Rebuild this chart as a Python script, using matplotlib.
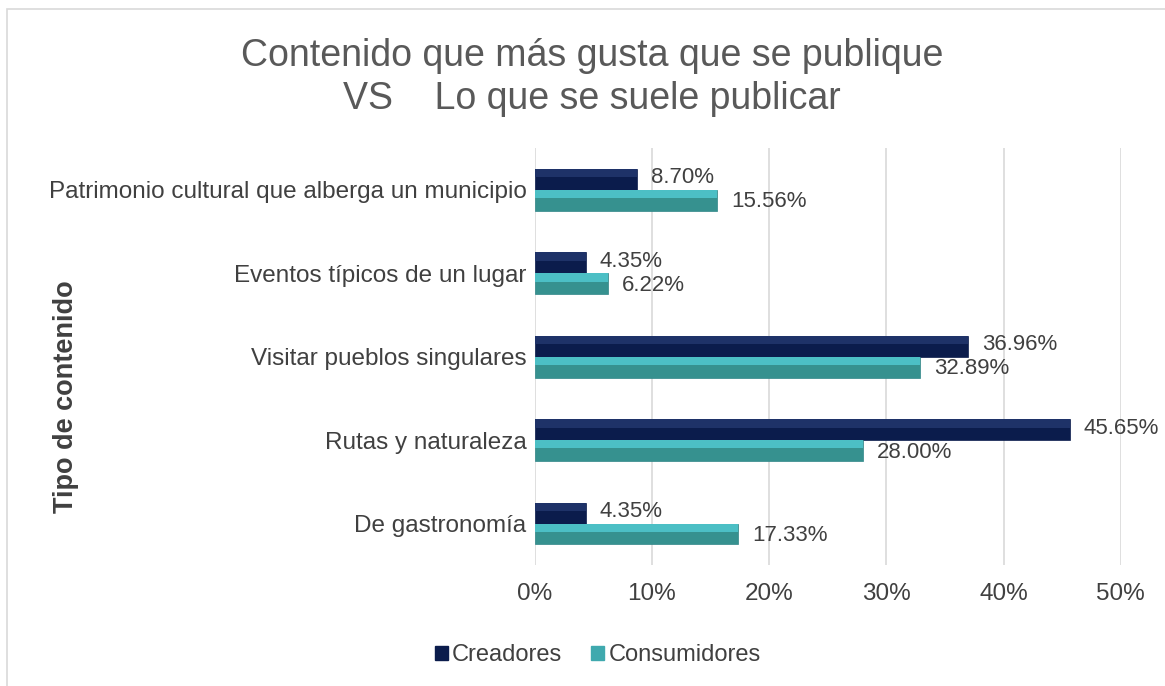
import numpy as np
import matplotlib.pyplot as plt
from matplotlib.patches import Rectangle

plt.rcParams['font.family'] = ['Liberation Sans', 'DejaVu Sans']

categorias = ['Patrimonio cultural que alberga un municipio',
              'Eventos típicos de un lugar',
              'Visitar pueblos singulares',
              'Rutas y naturaleza',
              'De gastronomía']
creadores = [8.70, 4.35, 36.96, 45.65, 4.35]
consumidores = [15.56, 6.22, 32.89, 28.00, 17.33]
xticks = [0, 10, 20, 30, 40, 50]

fig = plt.figure(figsize=(11.65, 6.86), dpi=100)
ax = fig.add_axes([0.459, 0.176, 0.503, 0.608])

y = np.arange(len(categorias))[::-1]
h = 0.25
txt = '#404040'

# base bars + lighter top strip for a bevel look
ax.barh(y + h / 2, creadores, height=h, color='#0b1c4c', edgecolor='#0b1c4c', linewidth=0.5, zorder=3)
ax.barh(y + h * 0.8, creadores, height=h * 0.4, color='#1e3268', linewidth=0, zorder=3)
ax.barh(y - h / 2, consumidores, height=h, color='#36918f', edgecolor='#2f8587', linewidth=0.5, zorder=3)
ax.barh(y - h * 0.2, consumidores, height=h * 0.4, color='#4cbfc5', linewidth=0, zorder=3)

for yi, v in zip(y, creadores):
    ax.text(v + 1.2, yi + h / 2 + 0.02, f'{v:.2f}%', va='center', ha='left', fontsize=16, color=txt)
for yi, v in zip(y, consumidores):
    ax.text(v + 1.2, yi - h / 2 - 0.02, f'{v:.2f}%', va='center', ha='left', fontsize=16, color=txt)

ax.set_xlim(0, 50)
ax.set_ylim(-0.5, len(categorias) - 0.5)
ax.set_xticks(xticks)
ax.set_xticklabels([f'{t}%' for t in xticks], fontsize=17.5, color=txt)
ax.set_yticks(y)
ax.set_yticklabels(categorias, fontsize=17.5, color=txt)
ax.tick_params(axis='x', length=0, pad=13)
ax.tick_params(axis='y', length=0, pad=6)
ax.grid(axis='x', color='#d9d9d9', linewidth=1.2, zorder=0)
for s in ax.spines.values():
    s.set_visible(False)

ax.set_ylabel('Tipo de contenido', fontsize=19.5, fontweight='bold', color=txt, labelpad=0)
ax.yaxis.set_label_coords(-0.777, 0.403)

fig.text(0.508, 0.887, 'Contenido que más gusta que se publique\nVS    Lo que se suele publicar',
         ha='center', va='center', fontsize=27, color='#595959', linespacing=1.25)

h1 = plt.Rectangle((0, 0), 1, 1, color='#0b1c4c')
h2 = plt.Rectangle((0, 0), 1, 1, color='#3fa9ae')
fig.legend([h1, h2], ['Creadores', 'Consumidores'], loc='center', bbox_to_anchor=(0.513, 0.045),
           ncol=2, frameon=False, fontsize=17, handlelength=0.55, handleheight=0.55,
           handletextpad=0.2, columnspacing=1.2, labelcolor=txt)

fig.patches.append(Rectangle((7 / 1165, -0.1), 1.2, 1.1 - 9 / 686, transform=fig.transFigure,
                             fill=False, edgecolor='#d9d9d9', linewidth=1.2))

fig.savefig('out.png', dpi=100)
